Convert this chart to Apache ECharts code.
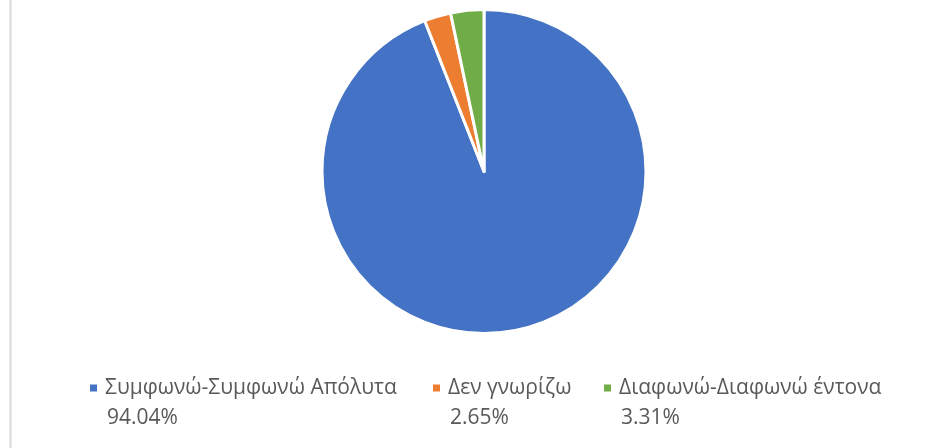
<!DOCTYPE html>
<html>
<head>
<meta charset="utf-8">
<script src="https://cdn.jsdelivr.net/npm/echarts@6/dist/echarts.min.js"></script>
<style>
  html, body { margin: 0; padding: 0; background: #fff; }
  #chart { width: 949px; height: 448px; }
</style>
</head>
<body>
<div id="chart"></div>
<script>
// Response categories and their shares (%)
var categories = ['Συμφωνώ-Συμφωνώ Απόλυτα', 'Δεν γνωρίζω', 'Διαφωνώ-Διαφωνώ έντονα'];
var shares = [94.04, 2.65, 3.31];
var colors = ['#4472C4', '#ED7D31', '#70AD47'];

var textColor = '#595959';
var fontFamily = '"Open Sans", "Noto Sans", sans-serif';
var fontSize = 21;

// Legend column positions (left edge of each marker)
var legendLeft = [90, 433, 604];

var chart = echarts.init(document.getElementById('chart'), null, { renderer: 'canvas' });

var legends = categories.map(function (name, i) {
  return {
    data: [name],
    left: legendLeft[i],
    top: 376,
    padding: 0,
    orient: 'horizontal',
    icon: 'rect',
    itemWidth: 7,
    itemHeight: 7,
    itemStyle: { borderWidth: 0 },
    selectedMode: false,
    formatter: function (n) { return '{gap| }{t|' + n + '}'; },
    textStyle: {
      color: textColor,
      fontSize: fontSize,
      fontFamily: fontFamily,
      lineHeight: 24,
      rich: {
        gap: { width: 3, fontSize: 2 },
        t: { color: textColor, fontSize: fontSize, fontFamily: fontFamily, lineHeight: 24 }
      }
    }
  };
});

var pctTexts = categories.map(function (name, i) {
  return {
    type: 'text',
    left: legendLeft[i] + 17,
    top: 408,
    style: {
      text: shares[i].toFixed(2) + '%',
      fill: textColor,
      font: fontSize + 'px ' + fontFamily
    }
  };
});

chart.setOption({
  animation: false,
  color: colors,
  legend: legends,
  graphic: [
    {
      type: 'line',
      shape: { x1: 10.5, y1: 0, x2: 10.5, y2: 448 },
      style: { stroke: '#d9d9d9', lineWidth: 2 }
    }
  ].concat(pctTexts),
  series: [{
    type: 'pie',
    center: [484, 171.5],
    radius: [0, 162],
    startAngle: 90,
    clockwise: true,
    label: { show: false },
    labelLine: { show: false },
    emphasis: { disabled: true },
    itemStyle: { borderColor: '#ffffff', borderWidth: 3 },
    data: categories.map(function (name, i) {
      return { name: name, value: shares[i] };
    })
  }]
});
</script>
</body>
</html>
